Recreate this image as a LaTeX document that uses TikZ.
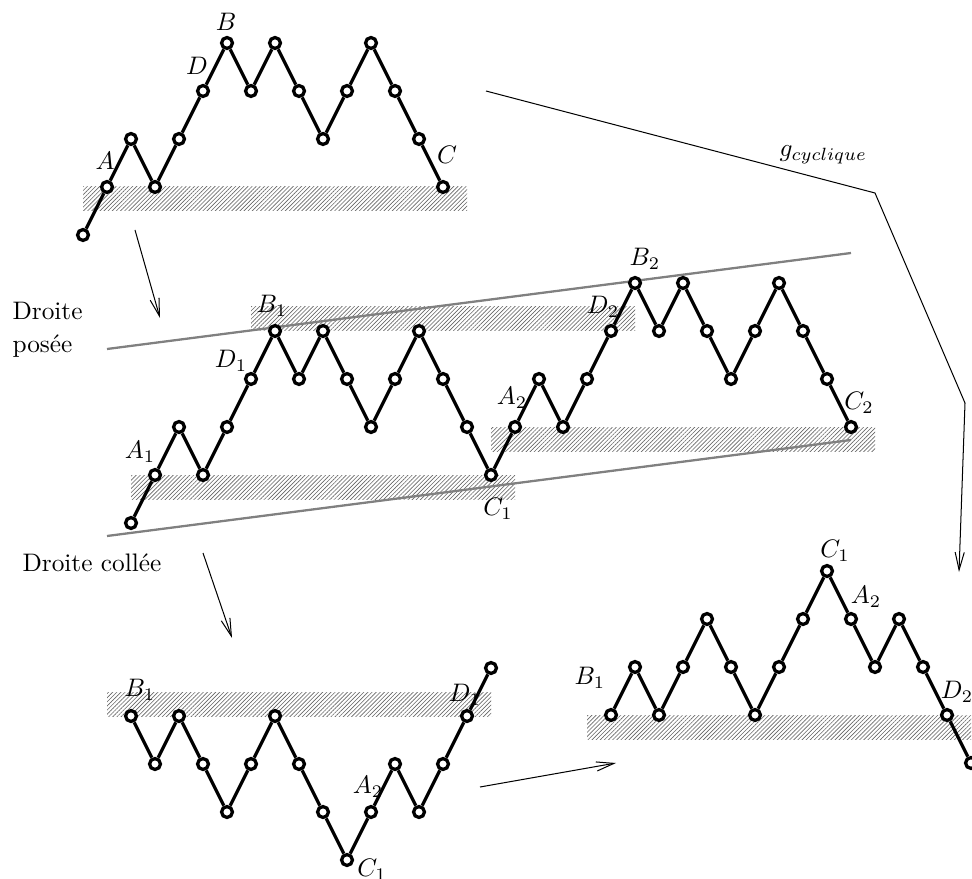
\documentclass[tikz,border=0pt]{standalone}
\usetikzlibrary{arrows.meta,patterns.meta}
\tikzset{
  vtx/.style={circle, draw=black, fill=white, line width=1.3pt, inner sep=0pt, minimum size=4.3pt},
  seg/.style={line width=1.3pt},
  hatch/.style={pattern={Lines[angle=45,distance=1.15pt,line width=0.25pt]}, pattern color=black!60},
  lab/.style={inner sep=0pt},
  guide/.style={draw=black!50, line width=0.9pt},
  arr/.style={line width=0.4pt, -{Straight Barb[length=7pt,width=3.6pt]}},
}
\begin{document}
\begin{tikzpicture}[x=0.395pt,y=-0.395pt]
\useasboundingbox (0,0) rectangle (972,879);
% hatched strips
\path[hatch] (83,187) rectangle (467,211);
\path[hatch] (131,475) rectangle (515,499);
\path[hatch] (491,427) rectangle (875,451);
\path[hatch] (251,307) rectangle (635,331);
\path[hatch] (107,692) rectangle (491,716);
\path[hatch] (587,715) rectangle (971,739);
% labels
\node[lab] (tA) at (105,161) {$A$};
\node[lab] (tD) at (197,66) {$D$};
\node[lab] (tB) at (226,22) {$B$};
\node[lab] (tC) at (447,155) {$C$};
\node[lab] (mA1) at (140,452) {$A_1$};
\node[lab] (mB1) at (272,306) {$B_1$};
\node[lab] (mD1) at (231,361) {$D_1$};
\node[lab] (mC1) at (498,509) {$C_1$};
\node[lab] (mA2) at (512,398) {$A_2$};
\node[lab] (mD2) at (603,307) {$D_2$};
\node[lab] (mB2) at (645,259) {$B_2$};
\node[lab] (mC2) at (859,403) {$C_2$};
\node[lab] (lB1) at (140,690) {$B_1$};
\node[lab] (lD1) at (465,695) {$D_1$};
\node[lab] (lA2) at (368,787) {$A_2$};
\node[lab] (lC1) at (372,870) {$C_1$};
\node[lab] (rB1) at (590,678) {$B_1$};
\node[lab] (rC1) at (835,551) {$C_1$};
\node[lab] (rA2) at (866,597) {$A_2$};
\node[lab] (rD2) at (957,692) {$D_2$};
\node[anchor=base west, inner sep=0pt] (dp1) at (12,320) {Droite};
\node[anchor=base west, inner sep=0pt] (dp2) at (12,353) {posée};
\node[anchor=base west, inner sep=0pt] (dc) at (22,571) {Droite collée};
\node[anchor=base west, inner sep=0pt] (gl) at (779,157) {$g_{cyclique}$};
% guide lines
\coordinate (u0) at (107,349); \coordinate (u1) at (851,253);
\coordinate (w0) at (107,536); \coordinate (w1) at (851,440);
\draw[guide] (u0) -- (u1);
\draw[guide] (w0) -- (w1);
% arrows
\coordinate (s1) at (135,230); \coordinate (e1) at (160,318);
\coordinate (s2) at (203,553); \coordinate (e2) at (232,638);
\coordinate (s3) at (480,787); \coordinate (e3) at (616,763);
\coordinate (g0) at (486,91); \coordinate (g1) at (875,193);
\coordinate (g2) at (965,403); \coordinate (g3) at (959,572);
\draw[arr] (s1) -- (e1);
\draw[arr] (s2) -- (e2);
\draw[arr] (s3) -- (e3);
\draw[arr] (g0) -- (g1) -- (g2) -- (g3);
% path 1 (top)
\foreach \l [count=\i from 0] in {0,1,2,1,2,3,4,3,4,3,2,3,4,3,2,1}
  \node[vtx] (a\i) at (83+24*\i, 235-48*\l) {};
\foreach \i [remember=\i as \j (initially 0)] in {1,...,15}
  \draw[seg] (a\j) -- (a\i);
% path 2 (middle)
\foreach \l [count=\i from 0] in {0,1,2,1,2,3,4,3,4,3,2,3,4,3,2,1,2,3,2,3,4,5,4,5,4,3,4,5,4,3,2}
  \node[vtx] (b\i) at (131+24*\i, 523-48*\l) {};
\foreach \i [remember=\i as \j (initially 0)] in {1,...,30}
  \draw[seg] (b\j) -- (b\i);
% path 3 (bottom left)
\foreach \l [count=\i from 0] in {0,-1,0,-1,-2,-1,0,-1,-2,-3,-2,-1,-2,-1,0,1}
  \node[vtx] (c\i) at (131+24*\i, 716-48*\l) {};
\foreach \i [remember=\i as \j (initially 0)] in {1,...,15}
  \draw[seg] (c\j) -- (c\i);
% path 4 (bottom right)
\foreach \l [count=\i from 0] in {0,1,0,1,2,1,0,1,2,3,2,1,2,1,0,-1}
  \node[vtx] (d\i) at (611+24*\i, 715-48*\l) {};
\foreach \i [remember=\i as \j (initially 0)] in {1,...,15}
  \draw[seg] (d\j) -- (d\i);
\end{tikzpicture}
\end{document}
